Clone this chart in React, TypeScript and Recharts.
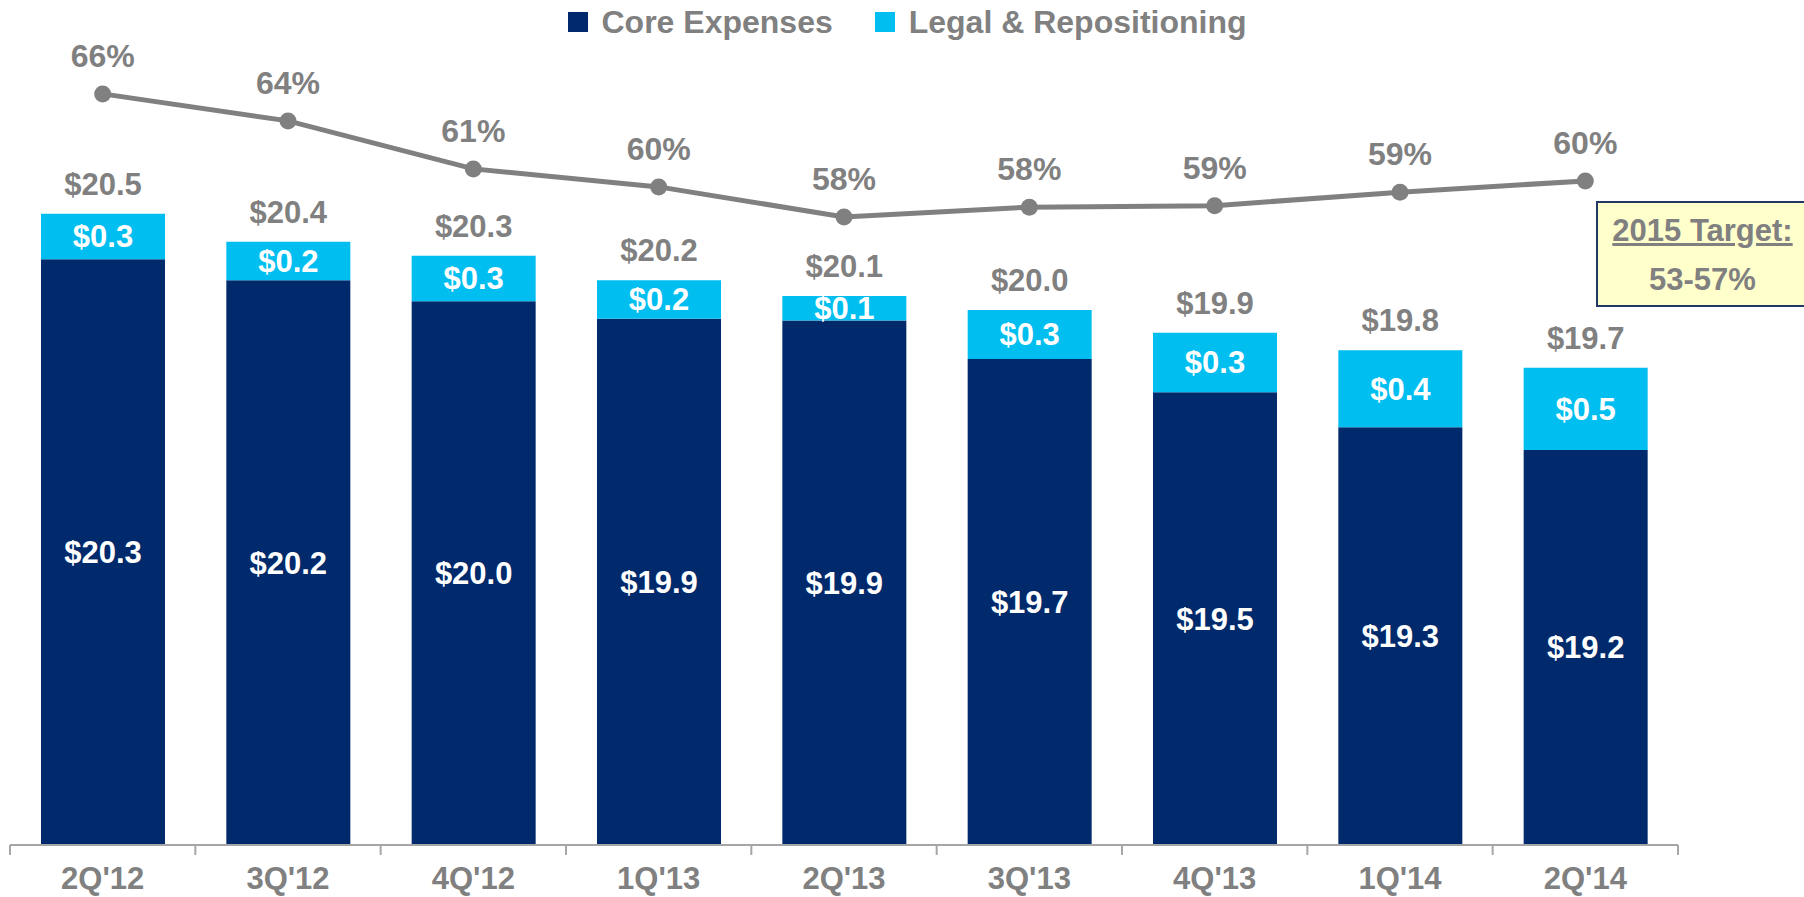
import { ComposedChart, Bar, Line, XAxis, YAxis, LabelList } from 'recharts';

const quarters = ["2Q'12", "3Q'12", "4Q'12", "1Q'13", "2Q'13", "3Q'13", "4Q'13", "1Q'14", "2Q'14"];
const coreExpenses = [20.28, 20.16, 20.04, 19.94, 19.93, 19.71, 19.52, 19.32, 19.19];
const legalRepositioning = [0.26, 0.22, 0.26, 0.22, 0.14, 0.28, 0.34, 0.44, 0.47];
const efficiencyRatio = [66.0, 64.2, 61.0, 59.8, 57.8, 58.45, 58.55, 59.45, 60.2];
const targetTitle = '2015 Target:';
const targetRange = '53-57%';

const NAVY = '#002A6C';
const CYAN = '#00BEF0';
const GRAY = '#808080';
const AXIS = '#A6A6A6';

const data = quarters.map((q, i) => ({
    q,
    core: coreExpenses[i],
    legal: legalRepositioning[i],
    total: coreExpenses[i] + legalRepositioning[i],
    ratio: efficiencyRatio[i],
}));

const money = (v: any) => '$' + Number(v).toFixed(1);
const pct = (v: any) => Math.round(Number(v)) + '%';

const QuarterTick = (props: any) => {
    const { x, y, payload, index, width, visibleTicksCount } = props;
    const half = width && visibleTicksCount ? width / visibleTicksCount / 2 : 0;
    return (
        <g>
            <line x1={x - half} x2={x - half} y1={y - 10} y2={y} stroke={AXIS} strokeWidth={2} />
            {index === visibleTicksCount - 1 && (
                <line x1={x + half} x2={x + half} y1={y - 10} y2={y} stroke={AXIS} strokeWidth={2} />
            )}
            <text x={x} y={y + 34} textAnchor="middle" fill={GRAY} fontSize={31} fontWeight="bold">
                {payload.value}
            </text>
        </g>
    );
};

const LegendItem = ({ color, label }: { color: string; label: string }) => (
    <div style={{ display: 'flex', alignItems: 'center', margin: '0 21px' }}>
        <div style={{ width: 20, height: 20, background: color, marginRight: 14 }} />
        <span style={{ color: GRAY, fontSize: 32, lineHeight: 1 }}>{label}</span>
    </div>
);

const App = () => {
    return (
        <div
            style={{
                position: 'absolute',
                left: 0,
                top: 0,
                width: 1804,
                height: 897,
                overflow: 'hidden',
                background: '#fff',
                fontFamily: '"Liberation Sans", Arial, sans-serif',
                fontWeight: 'bold',
            }}
        >
            <ComposedChart width={1804} height={897} data={data} margin={{ top: 60, right: 126, bottom: 0, left: 10 }}>
                <XAxis
                    dataKey="q"
                    height={52}
                    interval={0}
                    tickLine={false}
                    tickSize={10}
                    tickMargin={0}
                    axisLine={{ stroke: AXIS, strokeWidth: 2 }}
                    tick={<QuarterTick />}
                />
                <YAxis yAxisId="usd" hide domain={[16.932, 21.418]} allowDataOverflow />
                <YAxis yAxisId="pct" hide orientation="right" domain={[15.927, 68.26]} allowDataOverflow />
                <Bar yAxisId="usd" dataKey="core" stackId="exp" fill={NAVY} barSize={124} isAnimationActive={false}>
                    <LabelList dataKey="core" position="center" fill="#fff" fontSize={31} fontWeight="bold" formatter={money} />
                </Bar>
                <Bar yAxisId="usd" dataKey="legal" stackId="exp" fill={CYAN} barSize={124} isAnimationActive={false}>
                    <LabelList dataKey="legal" position="center" fill="#fff" fontSize={31} fontWeight="bold" formatter={money} />
                    <LabelList dataKey="total" position="top" offset={19} fill={GRAY} fontSize={31} fontWeight="bold" formatter={money} />
                </Bar>
                <Line
                    yAxisId="pct"
                    dataKey="ratio"
                    stroke={GRAY}
                    strokeWidth={5}
                    dot={{ r: 8.5, fill: GRAY, stroke: GRAY, strokeWidth: 0 }}
                    isAnimationActive={false}
                >
                    <LabelList dataKey="ratio" position="top" offset={27} fill={GRAY} fontSize={32} fontWeight="bold" formatter={pct} />
                </Line>
            </ComposedChart>

            <div
                style={{
                    position: 'absolute',
                    top: 2,
                    left: 5,
                    width: 1804,
                    height: 40,
                    display: 'flex',
                    justifyContent: 'center',
                    alignItems: 'center',
                }}
            >
                <LegendItem color={NAVY} label="Core Expenses" />
                <LegendItem color={CYAN} label="Legal & Repositioning" />
            </div>

            <div
                style={{
                    position: 'absolute',
                    left: 1596,
                    top: 201,
                    width: 213,
                    height: 106,
                    boxSizing: 'border-box',
                    border: '2px solid #1F3864',
                    background: '#FFFFCC',
                    color: GRAY,
                    fontSize: 31,
                    textAlign: 'center',
                }}
            >
                <div style={{ position: 'absolute', left: 0, right: 0, top: 11, lineHeight: '34px', textDecoration: 'underline' }}>
                    {targetTitle}
                </div>
                <div style={{ position: 'absolute', left: 0, right: 0, top: 60, lineHeight: '34px' }}>{targetRange}</div>
            </div>
        </div>
    );
};

export default App;
